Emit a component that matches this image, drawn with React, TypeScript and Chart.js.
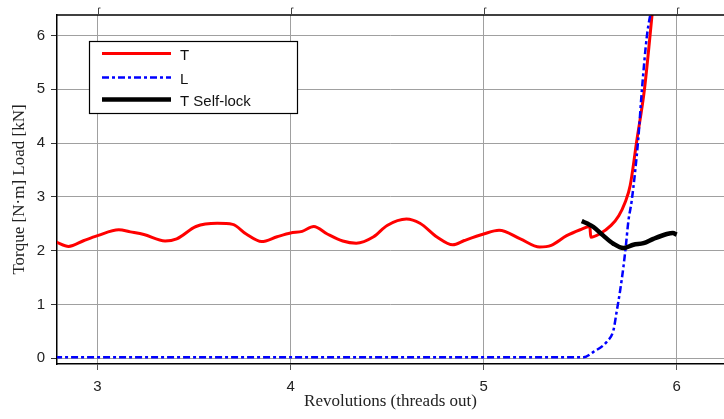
import React, { useEffect, useRef } from "react";
import { Chart, registerables } from "chart.js";

Chart.register(...registerables);

// Torque curve T [N·m]
const tX = [2.786, 2.85, 2.93, 3.0, 3.11, 3.17, 3.24, 3.35, 3.41, 3.51, 3.62, 3.70, 3.77, 3.85, 3.93, 4.0, 4.06, 4.12, 4.19, 4.27, 4.34, 4.43, 4.50, 4.60, 4.67, 4.76, 4.84, 4.90, 5.0, 5.08, 5.19, 5.29, 5.35, 5.43, 5.50, 5.55, 5.555, 5.60, 5.66, 5.70, 5.733, 5.759, 5.793, 5.833, 5.862, 5.878];
const tY = [2.16, 2.08, 2.19, 2.28, 2.39, 2.35, 2.30, 2.18, 2.22, 2.45, 2.51, 2.49, 2.31, 2.17, 2.26, 2.33, 2.36, 2.45, 2.31, 2.18, 2.14, 2.26, 2.47, 2.59, 2.51, 2.25, 2.11, 2.19, 2.31, 2.38, 2.22, 2.07, 2.10, 2.28, 2.39, 2.45, 2.25, 2.31, 2.47, 2.65, 2.90, 3.21, 4.04, 5.0, 6.0, 6.6];

// Load curve L [kN]
const lX = [2.78, 5.517, 5.569, 5.638, 5.672, 5.69, 5.707, 5.724, 5.736, 5.75, 5.767, 5.80, 5.82, 5.846, 5.875];
const lY = [0.02, 0.02, 0.12, 0.31, 0.52, 0.89, 1.26, 1.70, 2.07, 2.56, 2.93, 4.04, 5.0, 6.0, 6.6];

// Self-locking torque
const sX = [5.508, 5.54, 5.569, 5.62, 5.672, 5.724, 5.776, 5.828, 5.879, 5.949, 5.98, 6.0];
const sY = [2.55, 2.50, 2.44, 2.28, 2.13, 2.05, 2.11, 2.14, 2.22, 2.31, 2.33, 2.30];

const xTicks = [3, 4, 5, 6];
const yTicks = [0, 1, 2, 3, 4, 5, 6];

const xTitle = "Revolutions (threads out)";
const yTitle = "Torque [N·m] Load [kN]";
const legendItems = [
  { label: "T", color: "#ff0000", width: 3, dash: [] as number[] },
  { label: "L", color: "#0000ff", width: 2.5, dash: [7, 3, 3, 3] },
  { label: "T Self-lock", color: "#000000", width: 4.5, dash: [] as number[] },
];

const SANS = "'Liberation Sans', Arial, sans-serif";
const SERIF = "'Liberation Serif', 'Times New Roman', serif";

const pts = (xs: number[], ys: number[]) => xs.map((x, i) => ({ x, y: ys[i] }));

const decorations = {
  id: "decorations",
  afterDraw(chart: any) {
    const { ctx, chartArea } = chart;
    const xs = chart.scales.x;
    ctx.save();

    // top frame line
    ctx.strokeStyle = "#000";
    ctx.lineWidth = 1.5;
    ctx.beginPath();
    ctx.moveTo(chartArea.left, chartArea.top);
    ctx.lineTo(chartArea.right, chartArea.top);
    ctx.stroke();

    // small tick marks above the top edge
    ctx.strokeStyle = "#444";
    ctx.lineWidth = 1;
    xTicks.forEach((v) => {
      const px = Math.round(xs.getPixelForValue(v)) + 0.5;
      ctx.beginPath();
      ctx.moveTo(px, chartArea.top);
      ctx.lineTo(px, chartArea.top - 7);
      ctx.lineTo(px + 2, chartArea.top - 7);
      ctx.stroke();
    });

    // axis titles
    ctx.fillStyle = "#222";
    ctx.font = `17px ${SERIF}`;
    ctx.textAlign = "center";
    ctx.textBaseline = "middle";
    ctx.fillText(xTitle, (chartArea.left + chartArea.right) / 2, 402);
    ctx.save();
    ctx.translate(20, (chartArea.top + chartArea.bottom) / 2);
    ctx.rotate(-Math.PI / 2);
    ctx.fillText(yTitle, 0, 0);
    ctx.restore();

    // legend box
    const bx = 89, by = 41, bw = 208, bh = 72;
    ctx.fillStyle = "#fff";
    ctx.fillRect(bx, by, bw, bh);
    ctx.strokeStyle = "#000";
    ctx.lineWidth = 1.2;
    ctx.strokeRect(bx + 0.5, by + 0.5, bw, bh);
    const rows = [53.5, 77.5, 99.5];
    ctx.font = `15px ${SANS}`;
    ctx.textAlign = "left";
    legendItems.forEach((it, i) => {
      ctx.strokeStyle = it.color;
      ctx.lineWidth = it.width;
      ctx.setLineDash(it.dash);
      ctx.beginPath();
      ctx.moveTo(102, rows[i]);
      ctx.lineTo(171, rows[i]);
      ctx.stroke();
      ctx.setLineDash([]);
      ctx.fillStyle = "#111";
      ctx.fillText(it.label, 180, rows[i] + 2);
    });

    ctx.restore();
  },
};

export default function App() {
  const ref = useRef<HTMLCanvasElement>(null);

  useEffect(() => {
    if (!ref.current) return;
    const chart = new Chart(ref.current, {
      type: "line",
      data: {
        datasets: [
          {
            label: "T",
            data: pts(tX, tY),
            borderColor: "#ff0000",
            borderWidth: 3,
            pointRadius: 0,
            cubicInterpolationMode: "monotone",
            order: 3,
          },
          {
            label: "L",
            data: pts(lX, lY),
            borderColor: "#0000ff",
            borderWidth: 2.5,
            borderDash: [7, 3, 3, 3],
            pointRadius: 0,
            cubicInterpolationMode: "monotone",
            order: 2,
          },
          {
            label: "T Self-lock",
            data: pts(sX, sY),
            borderColor: "#000000",
            borderWidth: 4.5,
            pointRadius: 0,
            cubicInterpolationMode: "monotone",
            order: 1,
          },
        ],
      },
      options: {
        animation: false,
        responsive: false,
        devicePixelRatio: 1,
        layout: { padding: { top: 14, right: 0, left: 0, bottom: 0 } },
        plugins: { legend: { display: false }, tooltip: { enabled: false } },
        scales: {
          x: {
            type: "linear",
            min: 2.79,
            max: 6.245,
            afterBuildTicks: (s: any) => {
              s.ticks = xTicks.map((v) => ({ value: v }));
            },
            afterFit: (s: any) => {
              s.height = 55;
            },
            ticks: {
              color: "#222",
              font: { family: SANS, size: 15 },
              padding: 8,
              maxRotation: 0,
              callback: (v: any) => String(v),
            },
            grid: { color: "#a0a0a0", lineWidth: 1, tickLength: 6, tickColor: "#555" },
            border: { color: "#000", width: 1.5 },
          },
          y: {
            type: "linear",
            min: -0.105,
            max: 6.38,
            afterBuildTicks: (s: any) => {
              s.ticks = yTicks.map((v) => ({ value: v }));
            },
            afterFit: (s: any) => {
              s.width = 57;
            },
            ticks: {
              color: "#222",
              font: { family: SANS, size: 15 },
              padding: 6,
              callback: (v: any) => String(v),
            },
            grid: { color: "#a0a0a0", lineWidth: 1, tickLength: 6, tickColor: "#333" },
            border: { color: "#000", width: 1.5 },
          },
        },
      },
      plugins: [decorations],
    } as any);
    return () => chart.destroy();
  }, []);

  return (
    <div style={{ position: "absolute", left: 0, top: 0, width: 724, height: 419, background: "#fff" }}>
      <canvas ref={ref} width={724} height={419} />
    </div>
  );
}
